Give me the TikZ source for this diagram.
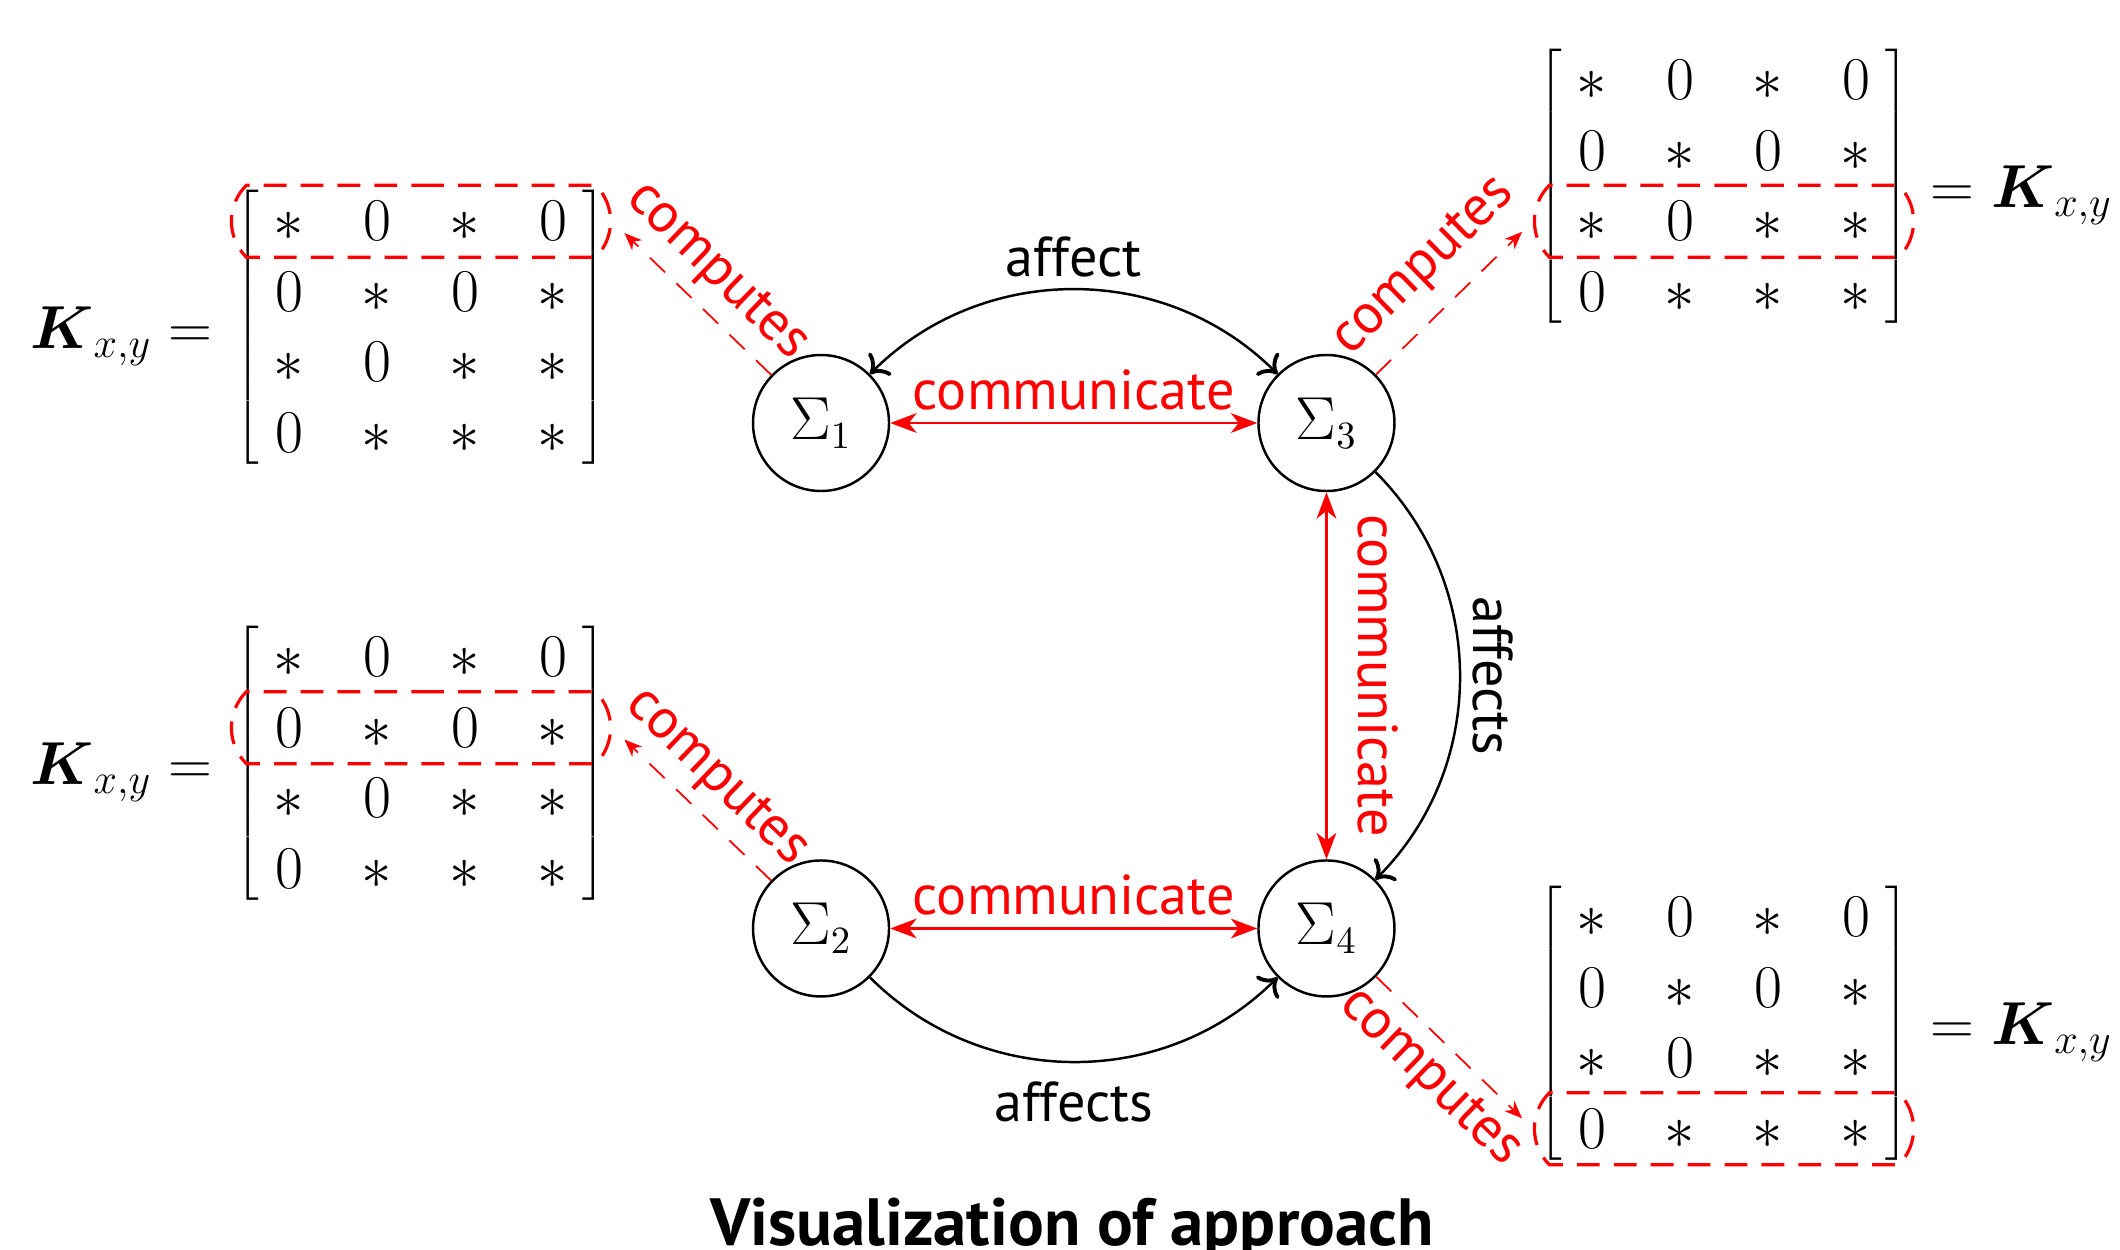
\documentclass[tikz,border=0pt]{standalone}
\usepackage{amsmath}
\usepackage{exscale}
\usepackage{fontspec}
\setsansfont{PT Sans}
\usetikzlibrary{shapes.misc,arrows.meta,positioning,matrix,fit}

\begin{document}
\begin{tikzpicture}[node distance=3.67cm, auto,
        sys/.style={circle, draw, line width=0.7pt, minimum size=1.36cm, inner sep=0pt, font=\fontsize{16}{16}\selectfont},
        kmat/.style={matrix of math nodes, left delimiter={[}, right delimiter={]}, inner sep=0pt,
            column sep=0.38cm, row sep=0pt, font=\fontsize{18}{18}\selectfont,
            every left delimiter/.style={xshift=2pt, font=\fontsize{18}{18}\selectfont},
            every right delimiter/.style={xshift=-1pt, font=\fontsize{18}{18}\selectfont},
            nodes={minimum width=0.5cm, text height=0.545cm, text depth=0.16cm, inner sep=0pt, font=\fontsize{18}{18}\selectfont}},
        kname/.style={inner sep=0pt, yshift=-0.09cm, font=\fontsize{17}{17}\selectfont},
        pickrow/.style={rounded rectangle, rounded rectangle arc length=90, draw=red, line width=0.9pt,
            dash pattern=on 6.5pt off 4pt, inner xsep=0.17cm, inner ysep=0pt},
        comm/.style={{Stealth[length=7.5pt,width=5.6pt,inset=2.2pt]}-{Stealth[length=7.5pt,width=5.6pt,inset=2.2pt]}, red, line width=0.7pt},
        aff/.style={-{To[length=4.5pt,width=9pt,line width=1.1pt]}, line width=0.7pt},
        aff2/.style={{To[length=4.5pt,width=9pt,line width=1.1pt]}-{To[length=4.5pt,width=9pt,line width=1.1pt]}, line width=0.7pt},
        comp/.style={-{Stealth[length=5pt,width=4pt,inset=1.5pt]}, red, line width=0.5pt, dash pattern=on 6pt off 4.5pt},
        lbl/.style={font=\sffamily\fontsize{16}{16}\selectfont}]

    \useasboundingbox (0,0) rectangle (21.2,12.49);

    % subsystems
    \node[sys] (s1) at (8.21,8.26) {$\Sigma_1$};
    \node[sys, right=of s1] (s3) {$\Sigma_3$};
    \node[sys, below=of s1] (s2) {$\Sigma_2$};
    \node[sys, below=of s3] (s4) {$\Sigma_4$};

    % gain matrices
    \matrix[kmat] (m1) at (4.21,9.22) {
        \ast & 0 & \ast & 0 \\
        0 & \ast & 0 & \ast \\
        \ast & 0 & \ast & \ast \\
        0 & \ast & \ast & \ast \\
    };
    \matrix[kmat] (m2) at (4.21,4.86) {
        \ast & 0 & \ast & 0 \\
        0 & \ast & 0 & \ast \\
        \ast & 0 & \ast & \ast \\
        0 & \ast & \ast & \ast \\
    };
    \matrix[kmat] (m3) at (17.24,10.63) {
        \ast & 0 & \ast & 0 \\
        0 & \ast & 0 & \ast \\
        \ast & 0 & \ast & \ast \\
        0 & \ast & \ast & \ast \\
    };
    \matrix[kmat] (m4) at (17.24,2.26) {
        \ast & 0 & \ast & 0 \\
        0 & \ast & 0 & \ast \\
        \ast & 0 & \ast & \ast \\
        0 & \ast & \ast & \ast \\
    };

    \node[kname, left=0.5cm of m1] (k1) {$\boldsymbol{K}_{x,y}=$};
    \node[kname, left=0.5cm of m2] (k2) {$\boldsymbol{K}_{x,y}=$};
    \node[kname, right=0.48cm of m3] (k3) {$=\boldsymbol{K}_{x,y}$};
    \node[kname, right=0.48cm of m4] (k4) {$=\boldsymbol{K}_{x,y}$};

    % rows each subsystem computes
    \node[pickrow, fit=(m1-1-1)(m1-1-4)] (h1) {};
    \node[pickrow, fit=(m2-2-1)(m2-2-4)] (h2) {};
    \node[pickrow, fit=(m3-3-1)(m3-3-4)] (h3) {};
    \node[pickrow, fit=(m4-4-1)(m4-4-4)] (h4) {};

    % connections
    \draw[aff2] (s1) to[bend left=45] node[lbl, above] {affect} (s3);
    \draw[aff] (s3) to[bend left=45] node[lbl, above, rotate=-90] {affects} (s4);
    \draw[aff] (s2) to[bend right=45] node[lbl, below, yshift=-2pt] {affects} (s4);

    \draw[comm] (s1) -- node[lbl, above] {communicate} (s3);
    \draw[comm] (s2) -- node[lbl, above] {communicate} (s4);
    \draw[comm] (s3) -- node[lbl, above, rotate=-90, inner sep=8.5pt] {communicate} (s4);

    \draw[comp, shorten >=0.17cm] (s1) -- node[lbl, sloped, above] {computes} (h1.east);
    \draw[comp, shorten >=0.17cm] (s2) -- node[lbl, sloped, above] {computes} (h2.east);
    \draw[comp, shorten >=0.15cm] (s3) -- node[lbl, sloped, above, yshift=2pt] {computes} (h3.west);
    \draw[comp, shorten >=0.15cm] (s4) -- node[lbl, sloped, below] {computes} (h4.west);

    \node[font=\sffamily\bfseries\fontsize{19}{19}\selectfont, anchor=base] (title) at (10.72,0.04)
        {Visualization of approach};
\end{tikzpicture}
\end{document}
